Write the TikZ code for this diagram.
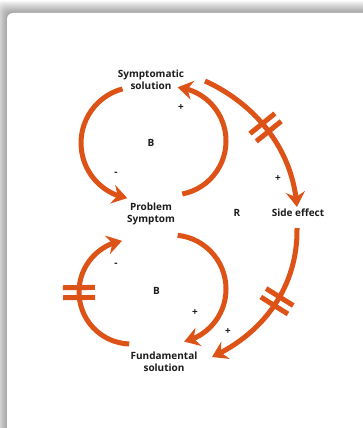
\documentclass[tikz,border=0pt]{standalone}
\usepackage{fontspec}
\setmainfont{Open Sans}
\usetikzlibrary{arrows.meta,bending,decorations.markings}
\definecolor{loopcol}{RGB}{221,82,22}
\definecolor{ink}{RGB}{28,28,28}
\begin{document}
\begin{tikzpicture}[x=1pt,y=-1pt,
  lbl/.style={font=\bfseries\fontsize{10}{12}\selectfont, text=ink, align=center, inner sep=0pt},
  sgn/.style={font=\bfseries\fontsize{10}{12}\selectfont, text=ink, inner sep=0pt},
  link/.style={draw=loopcol, line width=5pt,
    -{Stealth[inset=5pt, length=15pt, width=19pt]}},
  delay/.style={postaction={decorate, decoration={markings,
    mark=at position #1 with {\draw[draw=loopcol, line width=5pt, -]
      (-5,-16) -- (-5,16) (5,-16) -- (5,16);}}}}
]
% page frame
\clip (0,0) rectangle (363,428);
\fill[white] (0,0) rectangle (363,428);
% soft shadow round the card
\foreach \i in {1,...,12}
  \fill[black, opacity=0.03, rounded corners=6pt] (7-\i,13-\i) rectangle (420,470);
\fill[white, rounded corners=6pt] (7,13) rectangle (420,470);

% variables
\node[lbl] (sym)  at (151,80)    {Symptomatic\\solution};
\node[lbl] (prob) at (151,214)   {Problem\\Symptom};
\node[lbl] (side) at (298,212.5) {Side effect};
\node[lbl] (fund) at (164,362)   {Fundamental\\solution};

% loop markers
\node[lbl] (loopR)  at (237,212.5) {R};
\node[lbl] (loopB1) at (151,142.5) {B};
\node[lbl] (loopB2) at (156.5,290.5) {B};

% link polarities
\node[sgn] (p1) at (181,108) {+};
\node[sgn] (p2) at (278,179) {+};
\node[sgn] (p3) at (195,313) {+};
\node[sgn] (p4) at (228,332) {+};
\node[sgn] (m1) at (116,174) {-};
\node[sgn] (m2) at (116,265) {-};

% arc centres of the two balancing loops
\coordinate (cUL) at (137,143);
\coordinate (cUR) at (172,141);
\coordinate (cLL) at (131,292);
\coordinate (cLR) at (172,289);

% upper balancing loop
\draw[link] ([shift={(255:56)}]cUL) arc[start angle=255, end angle=100, radius=56];
\draw[link] ([shift={(79:54)}]cUR) arc[start angle=79, end angle=-84, radius=54];

% lower balancing loop
\draw[link, delay=0.52] ([shift={(92:52)}]cLL) arc[start angle=92, end angle=260, radius=52];
\draw[link] ([shift={(-84:54)}]cLR) arc[start angle=-84, end angle=77, radius=54];

% reinforcing loop through the side effect
\coordinate (symOut)  at (205,81);
\coordinate (sideIn)  at (297,207);
\coordinate (sideOut) at (297,228);
\coordinate (fundIn)  at (212,357);
\draw[link, delay=0.47] (symOut) .. controls (245,99) and (292,140) .. (sideIn);
\draw[link, delay=0.47] (sideOut) .. controls (298,290) and (260,335) .. (fundIn);
\end{tikzpicture}
\end{document}
